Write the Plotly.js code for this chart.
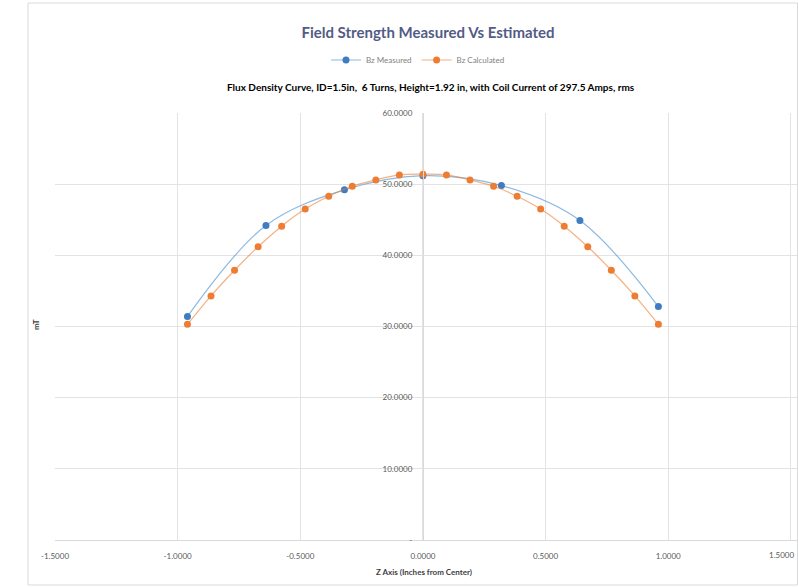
<!DOCTYPE html>
<html>
<head>
<meta charset="utf-8">
<script src="https://cdn.plot.ly/plotly-3.0.1.min.js"></script>
<style>html,body{margin:0;padding:0;background:#fff;}#chart{width:798px;height:587px;}</style>
</head>
<body>
<div id="chart"></div>
<script>
// Data
const measuredZ = [-0.96, -0.64, -0.32, 0.0, 0.32, 0.64, 0.96];
const measuredB = [31.4, 44.2, 49.2, 51.2, 49.8, 44.9, 32.8];

const calcZ = [-0.960, -0.864, -0.768, -0.672, -0.576, -0.480, -0.384, -0.288, -0.192, -0.096, 0.000,
               0.096, 0.192, 0.288, 0.384, 0.480, 0.576, 0.672, 0.768, 0.864, 0.960];
const calcB = [30.3, 34.3, 37.9, 41.2, 44.1, 46.5, 48.3, 49.7, 50.6, 51.3, 51.4,
               51.3, 50.6, 49.7, 48.3, 46.5, 44.1, 41.2, 37.9, 34.3, 30.3];

const xTickVals = [-1.5, -1.0, -0.5, 0.0, 0.5, 1.0, 1.5];
const xTickText = ["-1.5000", "-1.0000", "-0.5000", "0.0000", "0.5000", "1.0000", "1.5000"];
const yTickVals = [0, 10, 20, 30, 40, 50, 60];
const yTickText = ["-", "10.0000", "20.0000", "30.0000", "40.0000", "50.0000", "60.0000"];

const seriesNames = ["Bz Measured", "Bz Calculated"];
const titleText = "Field Strength Measured Vs Estimated";
const subtitleText = "Flux Density Curve, ID=1.5in,&nbsp; 6 Turns, Height=1.92 in, with Coil Current of 297.5 Amps, rms";
const xTitle = "Z Axis (Inches from Center)";
const yTitle = "mT";

const FONT = "Lato, 'Open Sans', sans-serif";
const W = 798, H = 587;
const M = {l: 55, r: 1, t: 113, b: 47};
const PW = W - M.l - M.r, PH = H - M.t - M.b;
const px = v => (v - M.l) / PW;          // pixel x -> paper x
const py = v => (H - M.b - v) / PH;      // pixel y -> paper y
const xRange = [-1.5, 1.525];

const traces = [
  {
    x: measuredZ, y: measuredB, name: seriesNames[0], type: "scatter", mode: "lines+markers",
    line: {color: "rgba(91,155,213,0.7)", width: 1.2, shape: "spline"},
    marker: {color: "#3E7CC4", size: 7}
  },
  {
    x: calcZ, y: calcB, name: seriesNames[1], type: "scatter", mode: "lines+markers",
    line: {color: "rgba(237,125,49,0.6)", width: 1.2, shape: "spline"},
    marker: {color: "#EE7D34", size: 7}
  }
];

// Plotly hides the last tick label because it overflows the page edge;
// draw it as a label kept just inside the right edge.
const lastIdx = xTickVals.length - 1;

const layout = {
  width: W, height: H,
  margin: M,
  paper_bgcolor: "#fff", plot_bgcolor: "#fff",
  font: {family: FONT, color: "#595959", size: 8},
  title: {
    text: "<b>" + titleText + "</b>",
    font: {family: FONT, size: 15, color: "#535B86"},
    x: px(428), xanchor: "center", xref: "paper",
    y: 1 - 33 / H, yanchor: "middle", yref: "container"
  },
  showlegend: true,
  legend: {
    orientation: "h", x: px(418), xanchor: "center", y: py(60), yanchor: "middle",
    font: {family: FONT, size: 8, color: "#7f7f7f"}, itemwidth: 30,
    bgcolor: "rgba(0,0,0,0)"
  },
  xaxis: {
    range: xRange, tickvals: xTickVals, ticktext: xTickText,
    showgrid: true, gridcolor: "#e3e3e3", gridwidth: 1,
    zeroline: false, showline: true, linecolor: "#d9d9d9", linewidth: 1,
    ticks: "", ticklabelstandoff: 8,
    tickfont: {family: FONT, size: 8, color: "#595959"},
    fixedrange: true
  },
  yaxis: {
    range: [0, 60], tickvals: yTickVals, ticktext: yTickText,
    showgrid: true, gridcolor: "#e3e3e3", gridwidth: 1,
    zeroline: false, showline: true, linecolor: "#d9d9d9", linewidth: 1,
    anchor: "free", position: (0 - xRange[0]) / (xRange[1] - xRange[0]),
    ticks: "", ticklabelstandoff: 9,
    tickfont: {family: FONT, size: 8, color: "#595959"},
    fixedrange: true
  },
  annotations: [
    {text: "<b>" + subtitleText + "</b>", xref: "paper", yref: "paper",
     x: px(431), y: py(87), xanchor: "center", yanchor: "middle", showarrow: false,
     font: {family: FONT, size: 10, color: "#000"}},
    {text: "<b>" + xTitle + "</b>", xref: "paper", yref: "paper",
     x: px(424), y: py(572), xanchor: "center", yanchor: "middle", showarrow: false,
     font: {family: FONT, size: 8, color: "#404040"}},
    {text: "<b>" + yTitle + "</b>", xref: "paper", yref: "paper",
     x: px(36), y: py(325), xanchor: "center", yanchor: "middle", showarrow: false,
     textangle: -90, font: {family: FONT, size: 8, color: "#404040"}},
    {text: xTickText[lastIdx], xref: "paper", yref: "paper",
     x: px(796), y: py(555), xanchor: "right", yanchor: "middle", showarrow: false,
     font: {family: FONT, size: 8, color: "#595959"}}
  ],
  shapes: [
    {type: "rect", xref: "paper", yref: "paper",
     x0: px(28), x1: px(797.5), y0: py(585), y1: py(3),
     line: {color: "#d9d9d9", width: 1}, fillcolor: "rgba(0,0,0,0)", layer: "below"}
  ]
};

Plotly.newPlot("chart", traces, layout, {displayModeBar: false, staticPlot: true});
</script>
</body>
</html>
